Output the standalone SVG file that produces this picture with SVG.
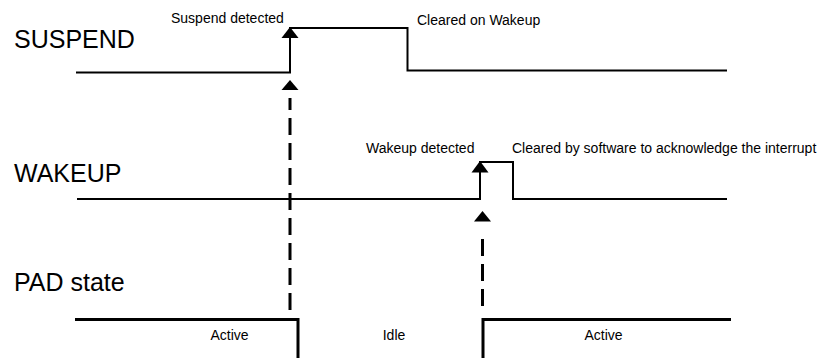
<svg xmlns="http://www.w3.org/2000/svg" width="823" height="358" viewBox="0 0 823 358">
<style>
.big{font-family:"Liberation Sans",Arial,sans-serif;font-size:25px;fill:#000}
.sm{font-family:"Liberation Sans",Arial,sans-serif;font-size:14px;fill:#000}
.sig{fill:none;stroke:#000;stroke-width:2}
.pad{fill:none;stroke:#000;stroke-width:3}
.dash{fill:none;stroke:#000;stroke-width:3;stroke-dasharray:17 8}
.head{fill:#000}
</style>
<rect width="823" height="358" fill="#fff"/>
<g id="suspend">
<text class="big" x="14" y="48">SUSPEND</text>
<path class="sig" d="M76,72.5 H290 V28 H407.5 V70.5 H727"/>
<polygon class="head" points="290,27 281.5,38 298.5,38"/>
<text class="sm" x="171" y="23">Suspend detected</text>
<text class="sm" x="417" y="25">Cleared on Wakeup</text>
</g>
<g id="wakeup">
<text class="big" x="14" y="182">WAKEUP</text>
<path class="sig" d="M77,199 H480 V162 H513 V199 H727"/>
<polygon class="head" points="480,161 471.5,172.5 488.5,172.5"/>
<text class="sm" x="366" y="153">Wakeup detected</text>
<text class="sm" x="512" y="153">Cleared by software to acknowledge the interrupt</text>
</g>
<g id="pad">
<text class="big" x="14" y="291">PAD state</text>
<path class="pad" d="M75,319.5 H298 V358"/>
<path class="pad" d="M483,358 V319.5 H731"/>
<text class="sm" x="229.5" y="340" text-anchor="middle">Active</text>
<text class="sm" x="394" y="340" text-anchor="middle">Idle</text>
<text class="sm" x="603.5" y="340" text-anchor="middle">Active</text>
</g>
<g id="connectors">
<path class="dash" d="M290,310 V98"/>
<polygon class="head" points="290,80 281.5,90 298.5,90"/>
<path class="dash" d="M482.5,306 V231"/>
<polygon class="head" points="482.5,211 474,221.5 491,221.5"/>
</g>
</svg>
